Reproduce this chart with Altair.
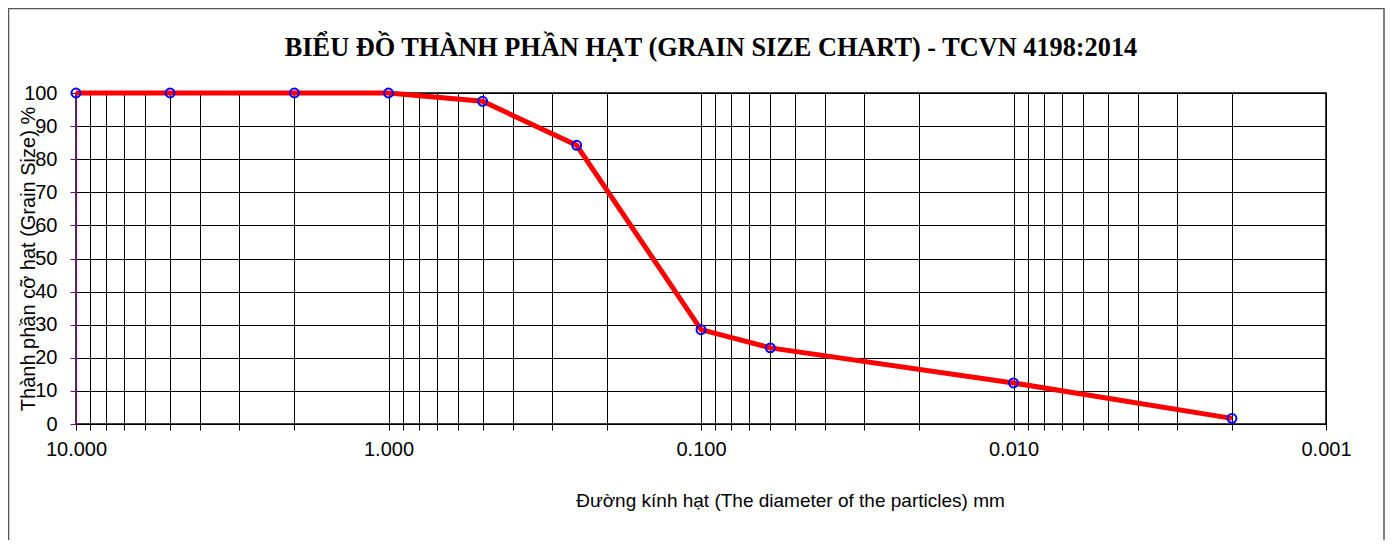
import altair as alt
import pandas as pd

# Data
diameter_mm = [10, 5, 2, 1, 0.5, 0.25, 0.1, 0.06, 0.01, 0.002]
passing_pct = [100, 100, 100, 100, 97.5, 84.2, 28.5, 23.0, 12.4, 1.7]

# Axis tick values
x_ticks = [float(f"{k}e{n}") for n in range(-3, 1) for k in range(1, 10)] + [10.0]
y_ticks = list(range(0, 101, 10))

title_text = "BIỂU ĐỒ THÀNH PHẦN HẠT (GRAIN SIZE CHART) - TCVN 4198:2014"
x_title = "Đường kính hạt (The diameter of the particles) mm"
y_title = "Thành phần cỡ hạt (Grain Size) %"

df = pd.DataFrame({"d": diameter_mm, "p": passing_pct})

W, H = 1250, 331

x_enc = alt.X(
    "d:Q",
    scale=alt.Scale(type="log", domain=[0.001, 10], reverse=True, nice=False),
    axis=alt.Axis(
        values=x_ticks,
        title=x_title,
        labelExpr="abs(log(datum.value)/LN10 - round(log(datum.value)/LN10)) < 0.001 ? format(datum.value, '.3f') : ''",
        labelFont="Liberation Sans",
        labelFontSize=20,
        labelColor="#000",
        labelPadding=9,
        labelOverlap=False,
        labelFlush=False,
        labelBound=False,
        tickSize=6,
        tickColor="#000",
        domainColor="#000",
        grid=True,
        gridColor="#000",
        gridOpacity=1,
        gridWidth=1,
        titleFont="Liberation Sans",
        titleFontSize=19,
        titleFontWeight="normal",
        titleColor="#000",
        titleX=714,
        titleY=82,
        titleAlign="center",
        titleBaseline="alphabetic",
    ),
)

y_enc = alt.Y(
    "p:Q",
    scale=alt.Scale(domain=[0, 100], nice=False, zero=True),
    axis=alt.Axis(
        values=y_ticks,
        tickCount=11,
        title=y_title,
        labelExpr="format(datum.value, 'd')",
        labelFont="Liberation Sans",
        labelFontSize=20,
        labelColor="#000",
        labelPadding=13,
        labelOverlap=False,
        labelBound=False,
        labelFlush=False,
        tickSize=6,
        tickColor="#800080",
        domainColor="#800080",
        grid=True,
        gridColor="#000",
        gridOpacity=1,
        gridWidth=1,
        titleFont="Liberation Sans",
        titleFontSize=20,
        titleFontWeight="normal",
        titleColor="#000",
        titleAngle=270,
        titleX=-48,
        titleY=H / 2,
        titleAlign="center",
        titleBaseline="middle",
    ),
)

base = alt.Chart(df).encode(x=x_enc, y=y_enc)
line = base.mark_line(color="#ff0000", strokeWidth=5)
points = base.mark_point(
    shape="circle", filled=False, stroke="#0000ff", strokeWidth=2, size=80, opacity=1
)

frame = alt.Chart(pd.DataFrame({"f": [0]})).mark_rect(
    fillOpacity=0, stroke="#555555", strokeWidth=1.5
).encode(
    x=alt.value(-67.5), x2=alt.value(1308), y=alt.value(-84.5), y2=alt.value(700)
)

chart = alt.layer(frame, line, points).properties(
    width=W,
    height=H,
    title=alt.TitleParams(
        text=title_text,
        font="Liberation Serif",
        fontSize=26.3,
        fontWeight="bold",
        color="#000",
        anchor="middle",
        dx=10,
        offset=-54,
    ),
    autosize=alt.AutoSizeParams(type="none"),
    padding={"left": 68, "top": 85, "right": 63, "bottom": 116},
).configure_view(stroke="#000", strokeWidth=1.5)

chart.save("out.html", embed_options={"renderer": "svg", "actions": False})
